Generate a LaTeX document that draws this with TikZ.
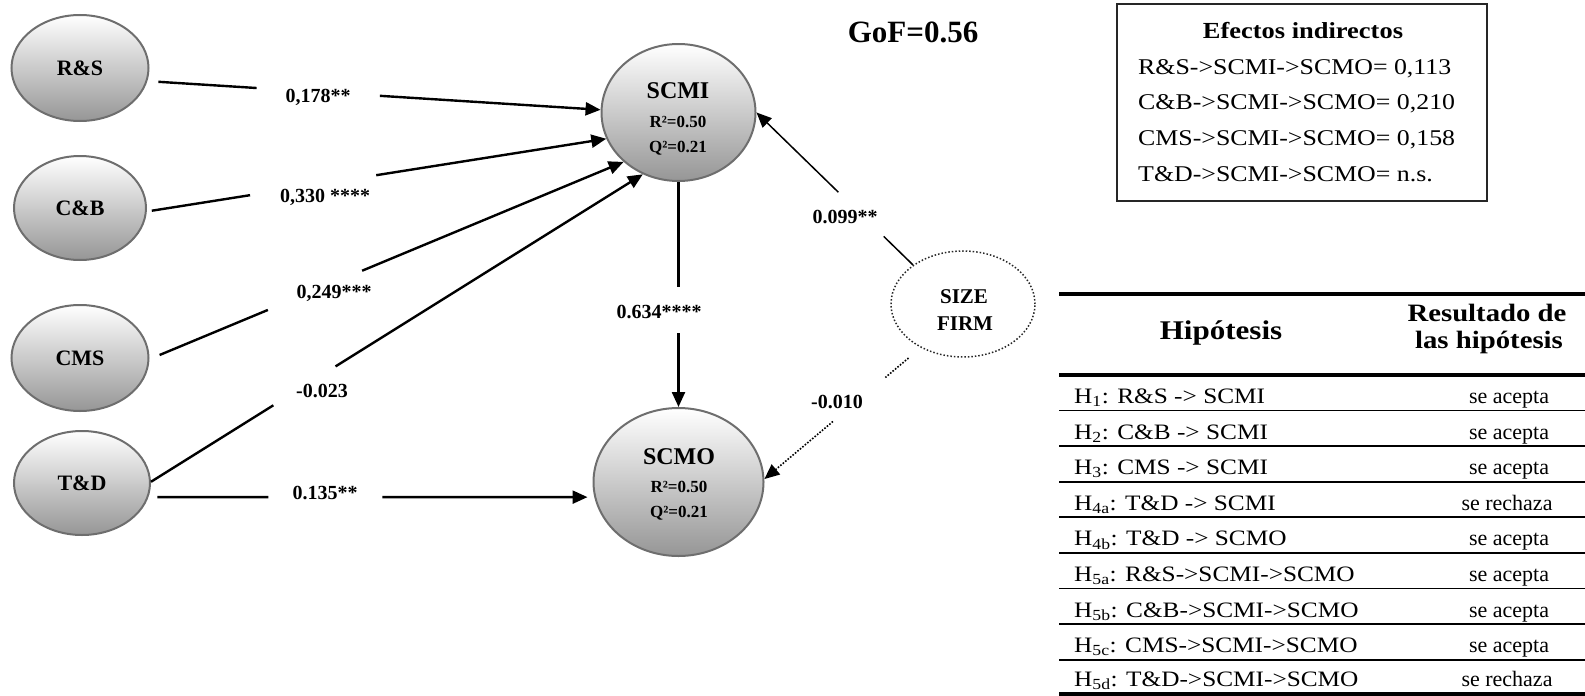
\documentclass[tikz,border=0pt]{standalone}
\usepackage{fontspec}
\setmainfont{Liberation Serif}
\newfontfamily\tabfont[FakeStretch=1.15]{Liberation Serif}
\usetikzlibrary{shapes.geometric,arrows.meta,calc}

\definecolor{ringgray}{RGB}{110,110,110}
\definecolor{shadegray}{RGB}{226,226,226}
\definecolor{deepgray}{RGB}{150,150,150}

% a connector broken by a gap where its coefficient stands
% #1 options of the first part, #2 options of the second part,
% #3 start, #4 end, #5 fraction where the gap begins, #6 where it ends
\newcommand\splitlink[6]{%
  \draw[#1] (#3) -- ($(#3)!#5!(#4)$);
  \draw[#2] ($(#3)!#6!(#4)$) -- (#4);
}

\tikzset{
  construct/.style={ellipse, draw=ringgray, line width=2pt, top color=white,
    middle color=shadegray, bottom color=deepgray, inner sep=0pt,
    font=\bfseries\fontsize{22}{26}\selectfont},
  moderator/.style={ellipse, draw=black!85, line width=1.5pt, dotted, inner sep=0pt},
  wire/.style={line width=2.4pt, black},
  thinwire/.style={line width=1.5pt, black},
  dotwire/.style={line width=1.6pt, black, dash pattern=on 1.6pt off 1.6pt},
  headed/.style={-{Triangle[length=15pt,width=13pt]}},
  coef/.style={anchor=base, inner sep=0pt, font=\bfseries\fontsize{20}{24}\selectfont},
  bigname/.style={anchor=base, inner sep=0pt, font=\bfseries\fontsize{24}{28}\selectfont},
  fitstat/.style={anchor=base, inner sep=0pt, font=\bfseries\fontsize{17}{20}\selectfont},
  modname/.style={anchor=base, inner sep=0pt, font=\bfseries\fontsize{21}{24}\selectfont},
  boxhead/.style={anchor=base, inner sep=0pt, font=\tabfont\bfseries\fontsize{23}{26}\selectfont},
  boxline/.style={anchor=base west, inner sep=0pt, font=\tabfont\fontsize{22.5}{26}\selectfont},
  colhead/.style={anchor=base, inner sep=0pt, font=\tabfont\bfseries\fontsize{27}{30}\selectfont},
  colheadb/.style={anchor=base, inner sep=0pt, font=\tabfont\bfseries\fontsize{25}{28}\selectfont},
  hypcell/.style={anchor=base west, inner sep=0pt, font=\tabfont\fontsize{22}{26}\selectfont},
  rescell/.style={anchor=base, inner sep=0pt, font=\fontsize{22}{26}\selectfont},
  thickrule/.style={line width=4pt, black},
  thinrule/.style={line width=1.8pt, black},
}

\begin{document}
\begin{tikzpicture}[x=1pt,y=-1pt]
\useasboundingbox (0,0) rectangle (1585,696);

% constructs
\node[construct, minimum width=137pt, minimum height=106pt] (rs)  at (80,68)  {R\&S};
\node[construct, minimum width=132pt, minimum height=104pt] (cb)  at (80,208) {C\&B};
\node[construct, minimum width=137pt, minimum height=106pt] (cms) at (80,358) {CMS};
\node[construct, minimum width=136pt, minimum height=104pt] (td)  at (82,483) {T\&D};
\node[construct, minimum width=154pt, minimum height=137pt] (scmi) at (678.5,112.5) {};
\node[construct, minimum width=170pt, minimum height=148pt] (scmo) at (678.5,482) {};
\node[moderator, minimum width=144pt, minimum height=106pt] (size) at (963,304) {};

% texts inside the endogenous constructs and the moderator
\node[bigname] (scminame) at (678,98)  {SCMI};
\node[fitstat] (scmir)    at (678,127) {R²=0.50};
\node[fitstat] (scmiq)    at (678,152) {Q²=0.21};
\node[bigname] (scmoname) at (679,464) {SCMO};
\node[fitstat] (scmor)    at (679,492) {R²=0.50};
\node[fitstat] (scmoq)    at (679,517) {Q²=0.21};
\node[modname] (sizea)    at (964,303) {SIZE};
\node[modname] (sizeb)    at (965,330) {FIRM};

% path coefficients
\node[coef] (c1) at (318,102) {0,178**};
\node[coef] (c2) at (325,202) {0,330 ****};
\node[coef] (c3) at (334,298) {0,249***};
\node[coef] (c4) at (322,397) {-0.023};
\node[coef] (c5) at (325,499) {0.135**};
\node[coef] (c6) at (845,223) {0.099**};
\node[coef] (c7) at (659,318) {0.634****};
\node[coef] (c8) at (837,408) {-0.010};

\node[anchor=base, inner sep=0pt, font=\bfseries\fontsize{31}{34}\selectfont] (gof) at (913,42) {GoF=0.56};

% structural paths
\splitlink{wire,shorten <=11pt}{wire,headed}{rs.-11}{scmi.178}{0.241}{0.513}
\splitlink{wire,shorten <=5pt}{wire,headed}{cb.-3}{scmi.-160}{0.2247}{0.4992}
\splitlink{wire,shorten <=11pt}{wire,headed}{cms.-1}{scmi.-138.5}{0.2497}{0.4485}
\splitlink{wire}{wire,headed}{td.1}{scmi.-120.8}{0.2488}{0.3752}
\coordinate (tdend) at (td.-12.8 -| scmo.west);
\splitlink{wire,shorten <=9pt}{wire,headed,shorten >=5pt}{td.-12.8}{tdend}{0.27}{0.5266}
\splitlink{wire}{wire,headed}{scmi.south}{scmo.north}{0.466}{0.673}
\splitlink{thinwire}{thinwire,headed}{size.142.8}{scmi.east}{0.187}{0.477}
\splitlink{dotwire,shorten <=16pt}{dotwire,headed}{size.-134.5}{scmo.2}{0.2263}{0.5616}

% indirect effects
\node[draw=black!85, line width=1.8pt, minimum width=370pt, minimum height=197pt, inner sep=0pt] (ebox) at (1302,102.5) {};
\node[boxhead] (ehead) at (1303,38) {Efectos indirectos};
\node[boxline] (e1) at (1138,74)  {R\&S->SCMI->SCMO= 0,113};
\node[boxline] (e2) at (1138,109) {C\&B->SCMI->SCMO= 0,210};
\node[boxline] (e3) at (1138,145) {CMS->SCMI->SCMO= 0,158};
\node[boxline] (e4) at (1138,181) {T\&D->SCMI->SCMO= n.s.};

% hypotheses table
\draw[thickrule] (1059,294) -- (1585,294);
\draw[thickrule] (1059,375) -- (1585,375);
\foreach \ry in {410.4,446.0,481.6,517.2,552.8,588.4,624.0,659.6}
  \draw[thinrule] (1059,\ry) -- (1585,\ry);
\draw[line width=3.5pt] (1059,694) -- (1585,694);

\node[colhead]  (th1) at (1221,339) {Hipótesis};
\node[colheadb] (th2) at (1487,321) {Resultado de};
\node[colheadb] (th3) at (1489,348) {las hipótesis};

\node[hypcell] (h1)  at (1074,403.4) {H\textsubscript{1}: R\&S -> SCMI};
\node[hypcell] (h2)  at (1074,439.0) {H\textsubscript{2}: C\&B -> SCMI};
\node[hypcell] (h3)  at (1074,474.6) {H\textsubscript{3}: CMS -> SCMI};
\node[hypcell] (h4a) at (1074,510.2) {H\textsubscript{4a}: T\&D -> SCMI};
\node[hypcell] (h4b) at (1074,545.8) {H\textsubscript{4b}: T\&D -> SCMO};
\node[hypcell] (h5a) at (1074,581.4) {H\textsubscript{5a}: R\&S->SCMI->SCMO};
\node[hypcell] (h5b) at (1074,617.0) {H\textsubscript{5b}: C\&B->SCMI->SCMO};
\node[hypcell] (h5c) at (1074,652.6) {H\textsubscript{5c}: CMS->SCMI->SCMO};
\node[hypcell] (h5d) at (1074,686.0) {H\textsubscript{5d}: T\&D->SCMI->SCMO};

\node[rescell] (r1)  at (1509,403.4) {se acepta};
\node[rescell] (r2)  at (1509,439.0) {se acepta};
\node[rescell] (r3)  at (1509,474.6) {se acepta};
\node[rescell] (r4a) at (1507,510.2) {se rechaza};
\node[rescell] (r4b) at (1509,545.8) {se acepta};
\node[rescell] (r5a) at (1509,581.4) {se acepta};
\node[rescell] (r5b) at (1509,617.0) {se acepta};
\node[rescell] (r5c) at (1509,652.6) {se acepta};
\node[rescell] (r5d) at (1507,686.0) {se rechaza};
\end{tikzpicture}
\end{document}
